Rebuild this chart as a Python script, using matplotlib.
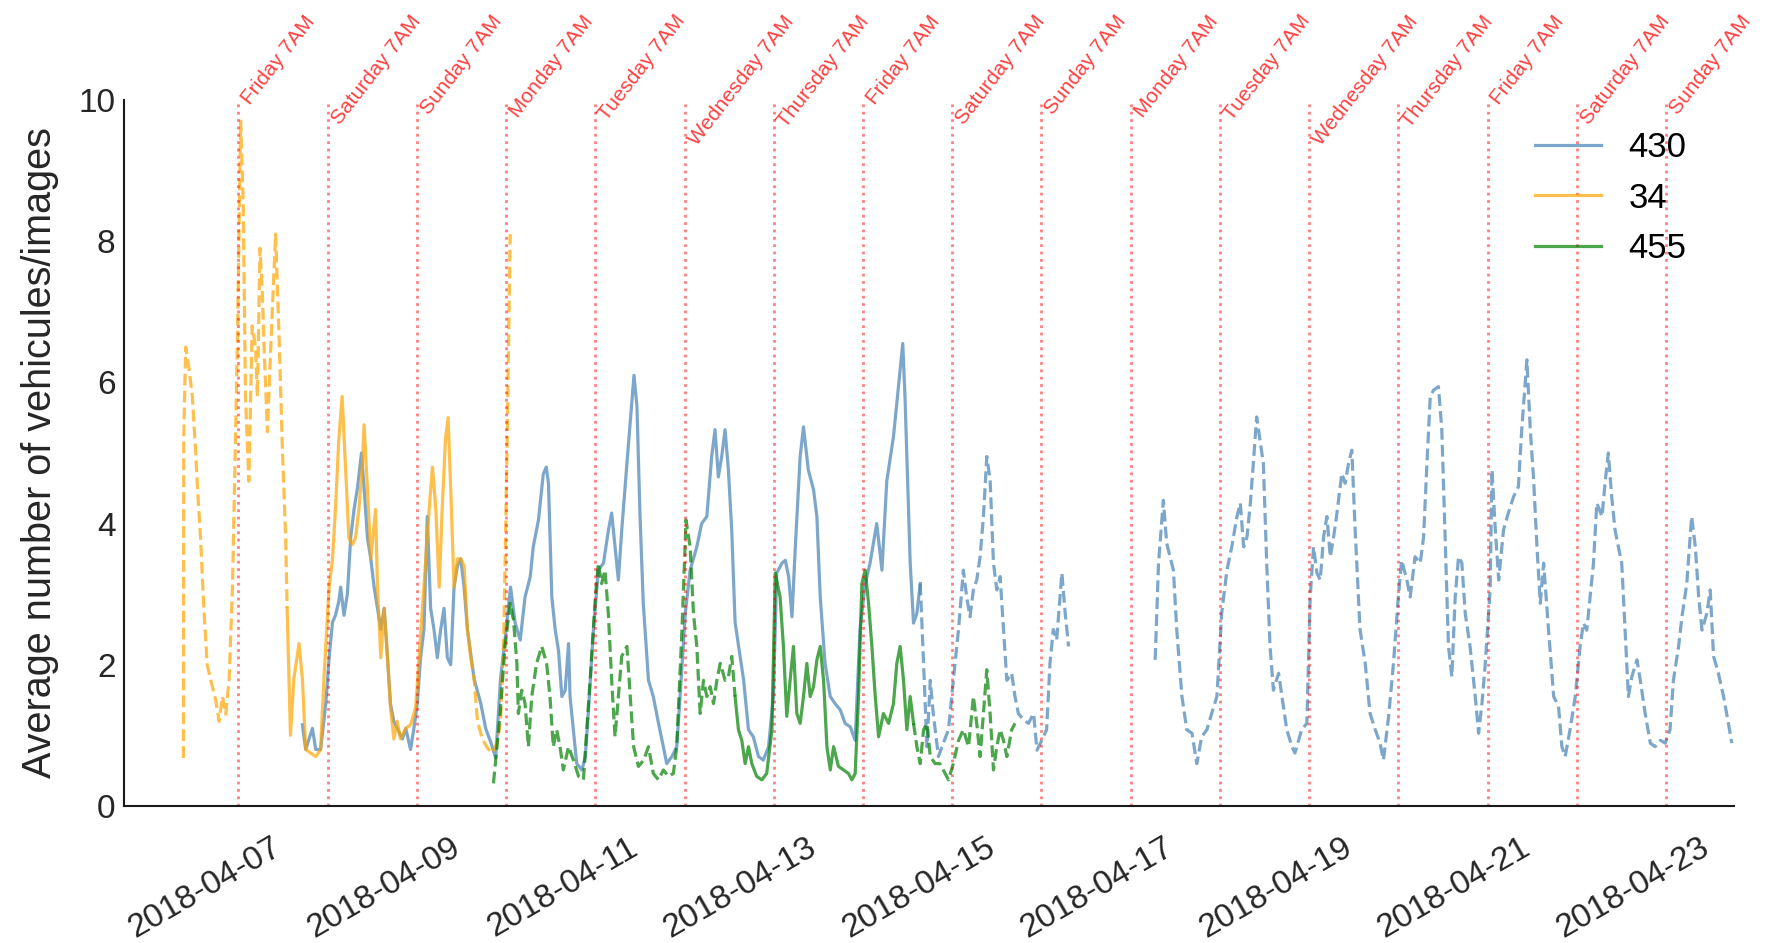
import matplotlib
matplotlib.use("Agg")
import matplotlib.pyplot as plt
import matplotlib.dates as mdates
from matplotlib.lines import Line2D
import numpy as np
import pandas as pd

plt.rcParams["font.family"] = ["Liberation Sans", "DejaVu Sans"]

# hour 0 of the arrays below (axis is in UTC, markers are 7AM local = 11:00 UTC)
start = pd.Timestamp("2018-04-05 04:00")

# camera 430, hours since start and mean count (nan = no data)
h430 = [48.2, 49.1, 50.0, 50.9, 51.8, 53.1, 54.5, 55.4, 56.3, 57.1, 58.0, 58.5, 59.4, 60.3,
        61.2, 62.1, 63.0, 64.1, 64.8, 65.7, 66.6, 67.5, 68.4, 69.3, 70.2, 71.1, 71.9, 72.8,
        73.7, 75.1, 76.0, 77.3, 78.2, 79.1, 80.0, 80.9, 81.8, 82.7, 83.6, 84.5, 85.4, 86.3,
        87.2, 88.1, 89.0, 89.9, 90.8, 91.7, 92.6, 94.4, 96.2, 97.5, 98.9, 100.2, 101.5, 102.9,
        104.2, 105.4, 106.8, 108.1, 109.5, 110.3, 111.7, 113.0, 113.8, 114.4, 115.3, 116.2,
        117.1, 118.0, 118.9, 119.8, 120.2, 121.1, 122.0, 123.4, 124.3, 125.1, 126.5, 127.8,
        129.2, 130.5, 131.4, 132.3, 133.2, 134.1, 135.5, 136.8, 137.4, 138.2, 139.0, 139.9,
        141.3, 142.6, 144.0, 145.3, 146.2, 147.6, 148.9, 149.8, 151.2, 152.5, 154.3, 155.6,
        157.0, 158.3, 159.2, 160.1, 161.0, 161.9, 162.8, 163.7, 164.6, 166.0, 166.9, 168.2,
        169.5, 170.9, 172.2, 173.6, 174.9, 175.8, 177.2, 178.1, 179.0, 179.9, 180.8, 182.1,
        183.0, 184.3, 185.7, 186.6, 187.5, 188.8, 190.2, 191.5, 192.9, 194.2, 195.6, 196.9,
        198.2, 199.6, 200.9, 202.7, 204.1, 205.4, 207.2, 209.0, 209.7, 210.3, 211.7, 212.6,
        213.5, 214.4, 215.3, 216.2, 217.1, 217.9, 219.3, 220.6, 222.0, 223.3, 224.7, 226.0,
        226.9, 227.8, 228.7, 229.6, 230.5, 231.4, 232.3, 233.2, 234.1, 235.0, 235.9, 236.8,
        237.7, 239.0, 239.9, 240.8, 242.2, 243.5, 244.9, 245.8, 247.1, 248.4, 249.3, 250.2,
        251.1, 252.0, 252.5, 253.4, 254.3, 266.0, 277.6, 278.5, 279.8, 280.7, 281.6, 282.5,
        283.4, 284.8, 286.1, 287.5, 288.8, 290.1, 291.5, 292.8, 294.2, 295.5, 296.9, 298.2,
        299.6, 300.5, 301.4, 302.3, 303.2, 304.0, 304.9, 305.8, 306.7, 307.6, 308.5, 309.4,
        310.8, 311.7, 313.0, 314.4, 315.2, 317.0, 318.4, 319.3, 320.2, 321.1, 322.0, 322.9,
        323.8, 324.7, 325.6, 326.5, 327.8, 328.7, 329.6, 330.5, 331.4, 332.7, 334.1, 335.4,
        336.8, 338.1, 339.0, 340.4, 341.7, 343.0, 343.9, 345.3, 346.2, 347.5, 348.9, 349.8,
        350.7, 351.6, 352.5, 353.8, 354.7, 355.6, 356.5, 357.4, 358.3, 359.2, 360.1, 361.0,
        362.3, 363.7, 364.6, 365.5, 366.4, 367.7, 368.2, 369.1, 370.0, 371.3, 372.6, 374.0,
        375.3, 376.2, 377.6, 378.5, 379.4, 380.3, 381.2, 382.1, 383.4, 384.8, 386.1, 387.0,
        387.9, 389.2, 390.6, 391.9, 392.8, 393.7, 394.6, 395.5, 396.4, 397.8, 398.7, 399.5,
        400.4, 401.3, 402.2, 403.1, 404.0, 404.9, 405.8, 407.2, 408.1, 409.4, 410.8, 412.1,
        413.5, 414.8, 416.1, 417.0, 418.4, 419.3, 420.6, 421.9, 422.9, 423.8, 424.7, 426.0,
        426.9, 427.8, 429.1, 430.5, 431.8, 432.7]
v430 = [1.15, 0.8, 0.95, 1.1, 0.8, 0.8, 1.45, 2.1, 2.6, 2.7, 2.9, 3.1, 2.7, 3.0,
        3.8, 4.2, 4.5, 5.0, 4.5, 3.8, 3.5, 3.1, 2.8, 2.5, 2.8, 2.1, 1.45, 1.2,
        1.1, 0.95, 1.1, 0.8, 1.1, 1.45, 2.1, 2.5, 4.1, 2.8, 2.5, 2.1, 2.5, 2.8,
        2.1, 2.0, 3.1, 3.4, 3.5, 3.1, 2.5, 1.8, 1.45, 1.1, 0.9, 0.68, 1.8, 2.45,
        3.1, 2.6, 2.35, 2.96, 3.25, 3.67, 4.05, 4.7, 4.8, 4.57, 2.96, 2.5,
        2.2, 1.55, 1.64, 2.3, 1.55, 1.08, 0.6, 0.51, 0.7, 1.31, 2.5, 3.34,
        3.44, 3.9, 4.15, 3.67, 3.2, 3.9, 4.85, 5.7, 6.1, 5.66, 4.15, 2.87,
        1.78, 1.55, 1.17, 0.84, 0.6, 0.7, 0.84, 1.55, 2.73, 3.34, 3.67, 4.0,
        4.1, 4.95, 5.33, 4.66, 4.95, 5.33, 4.76, 3.9, 2.6, 2.1, 1.78, 1.08,
        0.98, 0.7, 0.65, 0.84, 1.55, 3.3, 3.44, 3.48, 3.25, 2.68, 3.67, 4.95,
        5.37, 4.76, 4.48, 4.1, 2.96, 2.02, 1.55, 1.45, 1.36, 1.17, 1.12, 0.93,
        2.5, 3.15, 3.44, 4.0, 3.34, 4.6, 5.23, 6.18, 6.55, 5.8, 3.44, 2.59,
        2.73, 3.15, 2.02, 0.84, 1.78, 1.31, 0.7, 0.89, 1.08, 1.78, 2.5, 3.34,
        2.96, 2.68, 3.06, 3.2, 3.53, 4.1, 4.95, 4.62, 3.44, 3.06, 3.25, 2.5,
        1.78, 1.88, 1.55, 1.31, 1.22, 1.17, 1.31, 0.79, 0.93, 1.08, 2.02, 2.5,
        2.35, 2.96, 3.3, 2.73, 2.26, np.nan, 2.07, 3.44, 4.33, 3.72, 3.53, 3.34,
        2.5, 1.55, 1.08, 1.03, 0.6, 0.98, 1.08, 1.31, 1.55, 2.73, 3.34, 3.67,
        4.1, 4.29, 3.67, 3.81, 4.29, 4.85, 5.51, 5.18, 4.85, 3.44, 2.26, 1.64,
        1.88, 1.55, 1.08, 0.84, 0.75, 1.08, 1.17, 2.96, 3.67, 3.3, 3.2, 3.81,
        4.1, 3.53, 3.81, 4.15, 4.71, 4.57, 4.85, 5.04, 3.9, 2.5, 2.02, 1.31,
        1.08, 0.89, 0.65, 1.27, 2.02, 2.96, 3.48, 3.2, 2.96, 3.53, 3.44, 3.81,
        4.85, 5.8, 5.89, 5.94, 5.33, 3.81, 2.26, 1.83, 2.96, 3.53, 3.44, 2.73,
        2.26, 1.55, 1.03, 1.45, 2.02, 3.06, 4.76, 3.91, 3.2, 3.91, 4.15, 4.38,
        4.52, 5.33, 6.32, 5.33, 4.62, 3.67, 2.87, 3.44, 2.5, 1.55, 1.41, 0.84,
        0.7, 1.08, 1.55, 2.26, 2.59, 2.49, 2.96, 3.44, 4.29, 4.1, 4.62, 5.0,
        4.38, 3.91, 3.67, 3.44, 2.49, 1.55, 1.83, 2.07, 1.78, 1.31, 0.89, 0.84,
        0.93, 0.89, 1.08, 1.78, 2.26, 2.68, 3.15, 4.1, 3.67, 2.96, 2.49, 2.73,
        3.06, 2.12, 1.88, 1.55, 1.17, 0.89]
breaks430 = [214.4]
styles430 = ["-", "--"]

# camera 34
h34 = [16.2, 16.3, 16.8, 17.7, 18.6, 19.5, 20.1, 20.8, 21.7, 22.6, 23.7, 24.9, 25.8, 26.7,
       27.6, 28.5, 29.4, 30.7, 31.6, 32.3, 32.9, 33.8, 34.7, 35.6, 36.1, 36.8, 37.4, 37.9,
       38.8, 39.4, 40.1, 41.0, 41.9, 42.8, 43.7, 44.1, 45.0, 45.9, 47.3, 48.2, 49.1, 50.4,
       51.8, 53.1, 54.0, 55.4, 56.3, 57.1, 58.0, 58.9, 59.8, 60.7, 61.6, 62.5, 63.4, 64.3,
       64.8, 65.7, 66.6, 67.9, 68.4, 69.3, 70.2, 71.1, 71.9, 72.8, 73.7, 74.6, 76.0, 77.3,
       78.7, 79.6, 80.5, 81.4, 82.3, 83.2, 84.1, 85.0, 85.8, 86.7, 87.4, 88.1, 89.0, 89.9,
       90.8, 91.7, 92.6, 93.5, 94.4, 95.3, 96.6, 98.0, 99.3, 100.6, 101.5, 102.4, 103.3,
       104.1]
v34 = [0.68, 5.2, 6.5, 6.2, 5.8, 5.0, 4.4, 3.8, 2.8, 2.0, 1.75, 1.5, 1.2, 1.55,
       1.3, 1.8, 3.1, 6.5, 9.7, 8.5, 5.8, 4.6, 6.8, 6.5, 5.8, 7.9, 7.3, 6.5,
       5.3, 6.1, 7.0, 8.1, 6.7, 5.1, 3.8, 2.8, 1.0, 1.8, 2.3, 1.8, 0.8, 0.75,
       0.7, 0.8, 1.8, 3.1, 3.5, 4.2, 5.2, 5.8, 4.8, 3.8, 3.7, 3.8, 4.2, 4.8,
       5.4, 4.5, 3.5, 4.2, 3.1, 2.1, 2.8, 2.1, 1.4, 0.95, 1.2, 0.95, 1.1, 1.15,
       1.4, 2.1, 2.8, 3.5, 4.2, 4.8, 4.2, 3.1, 4.2, 5.2, 5.5, 4.5, 3.1, 3.5,
       3.5, 3.4, 2.5, 2.1, 1.8, 1.2, 0.95, 0.82, 0.75, 0.9, 1.2, 2.45, 5.2,
       8.1]
breaks34 = [44.1, 93.5]
styles34 = ["--", "-", "--"]

# camera 455
h455 = [99.6, 101.4, 102.7, 104.1, 105.0, 105.9, 106.3, 107.2, 108.1, 109.0, 109.9, 111.2,
        112.6, 113.9, 114.8, 115.7, 116.6, 117.5, 118.4, 119.8, 121.1, 122.5, 123.8, 124.7,
        125.6, 126.9, 127.8, 128.7, 129.6, 130.5, 131.4, 132.3, 133.2, 134.1, 135.5, 136.4,
        137.3, 138.6, 140.0, 141.3, 142.6, 144.0, 145.3, 146.7, 148.0, 148.9, 150.3, 151.4,
        152.5, 153.4, 154.3, 155.2, 156.1, 157.0, 157.9, 158.8, 159.7, 160.6, 161.9, 162.8,
        163.7, 164.6, 165.5, 166.4, 167.3, 168.2, 169.1, 170.4, 171.8, 173.1, 174.5, 175.4,
        176.7, 177.6, 178.5, 179.4, 180.3, 181.2, 182.1, 183.0, 183.9, 184.8, 185.7, 186.6,
        187.5, 188.4, 189.3, 190.2, 191.1, 192.4, 193.8, 195.1, 196.0, 196.9, 197.8, 198.7,
        199.6, 200.5, 201.4, 202.3, 203.2, 204.5, 205.9, 207.2, 208.1, 209.0, 209.9, 210.8,
        211.7, 212.6, 213.5, 214.4, 215.3, 216.2, 217.1, 218.4, 219.7, 221.1, 222.0, 223.3,
        224.7, 226.0, 227.4, 228.7, 229.6, 230.5, 231.4, 232.3, 233.2, 234.1, 235.0, 235.9,
        236.8, 237.7, 239.0, 239.9]
v455 = [0.32, 1.31, 2.26, 2.87, 2.63, 2.02, 1.31, 1.64, 1.45, 0.84, 1.55, 2.02,
        2.26, 2.02, 1.55, 0.84, 1.08, 0.84, 0.51, 0.84, 0.65, 0.42, 0.37, 1.08,
        1.78, 2.87, 3.44, 3.15, 3.34, 2.73, 1.78, 0.98, 1.55, 2.12, 2.26, 1.55,
        0.84, 0.56, 0.65, 0.84, 0.46, 0.37, 0.51, 0.42, 0.46, 0.84, 2.49, 4.05,
        3.67, 2.73, 2.26, 1.31, 1.78, 1.55, 1.69, 1.45, 1.78, 2.02, 1.78, 1.83,
        2.12, 1.55, 1.08, 0.93, 0.6, 0.84, 0.6, 0.42, 0.37, 0.46, 1.08, 3.3,
        2.96, 2.26, 1.27, 1.78, 2.26, 1.31, 1.17, 1.55, 2.02, 1.55, 1.69, 2.07,
        2.26, 1.78, 0.84, 0.51, 0.84, 0.56, 0.51, 0.46, 0.37, 0.46, 1.55, 3.15,
        3.34, 2.87, 2.26, 1.55, 0.98, 1.31, 1.17, 1.45, 2.02, 2.26, 1.78, 1.08,
        1.55, 1.17, 0.84, 0.6, 1.08, 1.17, 0.7, 0.6, 0.6, 0.46, 0.37, 0.6,
        0.93, 1.08, 0.84, 1.55, 1.17, 0.7, 1.31, 1.93, 1.31, 0.51, 0.84, 1.08,
        0.93, 0.7, 1.08, 1.17]
breaks455 = [164.6, 212.6]
styles455 = ["--", "-", "--"]

# 7AM markers
marker_hours = [31 + 24 * k for k in range(17)]
marker_days = ["Friday", "Saturday", "Sunday", "Monday", "Tuesday", "Wednesday", "Thursday",
               "Friday", "Saturday", "Sunday", "Monday", "Tuesday", "Wednesday", "Thursday",
               "Friday", "Saturday", "Sunday"]


def to_dates(hours):
    return start + pd.to_timedelta(np.asarray(hours, dtype=float), unit="h")


def pieces(h, v, breaks, styles):
    h = np.asarray(h, dtype=float)
    v = np.asarray(v, dtype=float)
    edges = [-np.inf] + list(breaks) + [np.inf]
    for lo, hi, ls in zip(edges[:-1], edges[1:], styles):
        m = (h >= lo) & (h <= hi)
        yield h[m], v[m], ls


series = [
    ("430", "steelblue", h430, v430, breaks430, styles430),
    ("34", "orange", h34, v34, breaks34, styles34),
    ("455", "green", h455, v455, breaks455, styles455),
]

fig = plt.figure(figsize=(17.73, 9.43), dpi=100)
ax = fig.add_axes([0.0699, 0.1453, 0.9081, 0.7487])

handles = []
for name, col, h, v, brk, sty in series:
    for hh, vv, ls in pieces(h, v, brk, sty):
        ax.plot(to_dates(hh), vv, color=col, alpha=0.7, lw=2.3, ls=ls)
    handles.append(Line2D([], [], color=col, alpha=0.7, lw=2.3, label=name))

for hr, day in zip(marker_hours, marker_days):
    t = to_dates([hr])[0]
    ax.axvline(t, color="red", alpha=0.5, lw=2, ls=":")
    ax.text(t, 11.25, day + " 7AM", rotation=52, ha="left", va="top",
            color="red", alpha=0.75, fontsize=15, clip_on=False)

ax.set_ylim(0, 10)
ax.set_yticks([0, 2, 4, 6, 8, 10])
ax.set_xlim(to_dates([0.2])[0], to_dates([433.3])[0])
ax.xaxis.set_major_locator(mdates.DayLocator(bymonthday=range(1, 32, 2)))
ax.xaxis.set_major_formatter(mdates.DateFormatter("%Y-%m-%d"))
for lab in ax.get_xticklabels():
    lab.set_rotation(30)
    lab.set_ha("right")

ax.tick_params(length=0, labelsize=24, colors="0.15", pad=6)
ax.tick_params(axis="x", pad=19)
ax.set_ylabel("Average number of vehicules/images", fontsize=28.5, color="0.15",
              labelpad=14)
for s in ["top", "right"]:
    ax.spines[s].set_visible(False)
for s in ["left", "bottom"]:
    ax.spines[s].set_color("0.1")
    ax.spines[s].set_linewidth(1.5)

ax.legend(handles=handles, loc="upper right", frameon=False, fontsize=25,
          handlelength=1.9, bbox_to_anchor=(0.99, 1.0))

fig.savefig("out.png", dpi=100)
